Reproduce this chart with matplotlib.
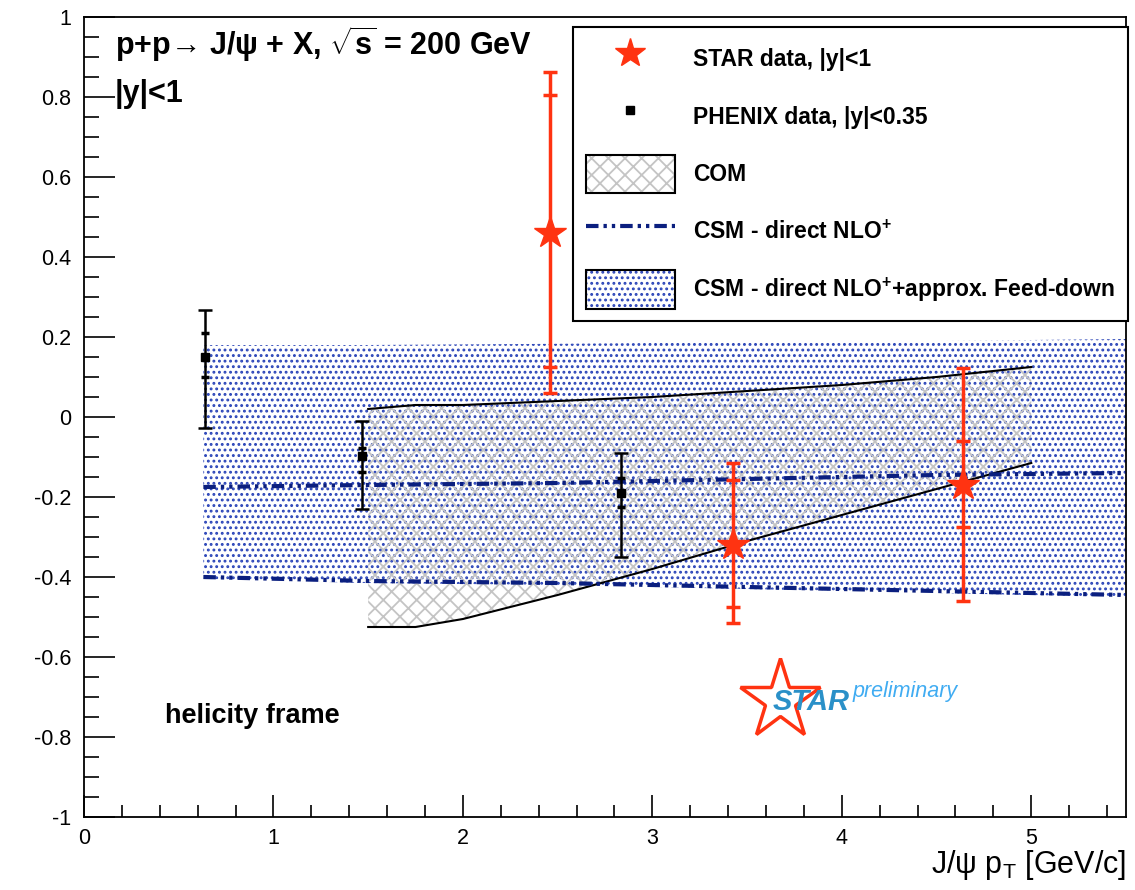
import matplotlib
matplotlib.use("Agg")
import matplotlib.pyplot as plt
from matplotlib.lines import Line2D
from matplotlib.patches import Patch
from matplotlib.legend_handler import HandlerTuple
from matplotlib.ticker import MultipleLocator, FuncFormatter

plt.rcParams['font.family'] = ['Liberation Sans', 'DejaVu Sans']
plt.rcParams['mathtext.fontset'] = 'custom'
plt.rcParams['mathtext.rm'] = 'Liberation Sans'
plt.rcParams['mathtext.it'] = 'Liberation Sans:italic'
plt.rcParams['mathtext.bf'] = 'Liberation Sans:bold'
plt.rcParams['hatch.linewidth'] = 1.3

RED = '#ff3311'
NAVY = '#0b1f7f'
DOTS = '#2a44b8'

# STAR data, |y|<1 (central value, total and inner error ends)
star_pt = [2.46, 3.425, 4.64]
star_val = [0.46, -0.32, -0.17]
star_hi = [0.8625, -0.115, 0.1225]
star_lo = [0.06, -0.515, -0.46]
star_hi_in = [0.805, -0.158, -0.06]
star_lo_in = [0.125, -0.475, -0.275]

# PHENIX data, |y|<0.35
phx_pt = [0.638, 1.467, 2.834]
phx_val = [0.15, -0.0975, -0.19]
phx_hi = [0.2675, -0.01, -0.09]
phx_lo = [-0.0275, -0.23, -0.35]
phx_hi_in = [0.21, -0.0775, -0.1525]
phx_lo_in = [0.10, -0.1375, -0.225]

# COM band
com_pt = [1.5, 1.75, 2.0, 2.25, 2.5, 3.0, 3.5, 4.0, 4.5, 5.0]
com_up = [0.02, 0.03, 0.03, 0.035, 0.04, 0.05, 0.065, 0.08, 0.10, 0.125]
com_dn = [-0.525, -0.525, -0.505, -0.475, -0.445, -0.38, -0.31, -0.245, -0.18, -0.115]

# CSM direct NLO+ lines and band with feed-down
csm_pt = [0.63, 1.5, 2.5, 3.5, 4.5, 5.5]
csm_up = [-0.175, -0.17, -0.165, -0.155, -0.145, -0.14]
csm_dn = [-0.40, -0.41, -0.415, -0.425, -0.435, -0.445]
fd_up = [0.18, 0.18, 0.183, 0.187, 0.19, 0.195]
fd_dn = [-0.405, -0.415, -0.42, -0.43, -0.44, -0.45]


def errs(val, lo, hi):
    return [[v - l for v, l in zip(val, lo)], [h - v for v, h in zip(val, hi)]]


fig = plt.figure(figsize=(11.35, 8.9), dpi=100)
ax = fig.add_axes([84 / 1135, 1 - 817 / 890, 1042 / 1135, 800 / 890])

# bands
ax.fill_between(csm_pt, fd_dn, fd_up, facecolor='white', edgecolor=DOTS,
                hatch='...', linewidth=0, zorder=1)
ax.fill_between(com_pt, com_dn, com_up, facecolor='none', edgecolor='#c4c4c4',
                hatch='xx', linewidth=0, zorder=2)
ax.plot(com_pt, com_up, color='black', lw=1.5, zorder=3)
ax.plot(com_pt, com_dn, color='black', lw=1.5, zorder=3)

dashdot = (0, (3, 1.2, 0.8, 1.2, 0.8, 1.2))
ax.plot(csm_pt, csm_up, color=NAVY, lw=3, ls=dashdot, zorder=3)
ax.plot(csm_pt, csm_dn, color=NAVY, lw=3, ls=dashdot, zorder=3)

# PHENIX points
ax.errorbar(phx_pt, phx_val, yerr=errs(phx_val, phx_lo, phx_hi), fmt='none',
            ecolor='black', elinewidth=1.8, capsize=5, capthick=1.8, zorder=4)
ax.errorbar(phx_pt, phx_val, yerr=errs(phx_val, phx_lo_in, phx_hi_in), fmt='none',
            ecolor='black', elinewidth=0, capsize=3, capthick=2.5, zorder=4)
ax.plot(phx_pt, phx_val, 's', color='black', ms=6, zorder=5)

# STAR points
ax.errorbar(star_pt, star_val, yerr=errs(star_val, star_lo, star_hi), fmt='none',
            ecolor=RED, elinewidth=2.5, capsize=5, capthick=2.5, zorder=6)
ax.errorbar(star_pt, star_val, yerr=errs(star_val, star_lo_in, star_hi_in), fmt='none',
            ecolor=RED, elinewidth=0, capsize=5, capthick=2.5, zorder=6)
ax.plot(star_pt, star_val, '*', color=RED, ms=24, zorder=7)

ax.set_xlim(0, 5.5)
ax.set_ylim(-1, 1)
ax.xaxis.set_major_locator(MultipleLocator(1))
ax.xaxis.set_minor_locator(MultipleLocator(0.2))
ax.yaxis.set_major_locator(MultipleLocator(0.2))
ax.yaxis.set_minor_locator(MultipleLocator(0.05))
ax.yaxis.set_major_formatter(FuncFormatter(lambda v, p: '%g' % round(v, 2)))
ax.tick_params(which='both', direction='in', top=False, right=False, width=1.2,
               labelsize=15.5)
ax.tick_params(axis='x', which='major', length=16, pad=8)
ax.tick_params(axis='x', which='minor', length=9)
ax.tick_params(axis='y', which='major', length=22, pad=9)
ax.tick_params(axis='y', which='minor', length=11)
for s in ax.spines.values():
    s.set_linewidth(1.3)

# texts
fig.text(115 / 1135, 1 - 55 / 890,
         'p+p\u2192 J/ψ + X, $\\sqrt{\\mathbf{s}}$ = 200 GeV',
         fontsize=22, fontweight='bold', va='baseline')
fig.text(115 / 1135, 1 - 102 / 890, '|y|<1', fontsize=22, fontweight='bold',
         va='baseline')
fig.text(165 / 1135, 1 - 723 / 890, 'helicity frame', fontsize=19.5,
         fontweight='bold', va='baseline')
fig.text(1126 / 1135, 1 - 873 / 890, r'J/ψ p$_{\mathregular{T}}$ [GeV/c]',
         fontsize=22, ha='right', va='baseline')

# STAR preliminary logo
ax.plot([(780 - 84) / 1042], [(817 - 700) / 800], transform=ax.transAxes,
        marker='*', ms=60, mfc='none', mec=RED, mew=2.5, ls='none', zorder=8)
fig.text(773 / 1135, 1 - 710 / 890, 'STAR', fontsize=21, fontweight='bold',
         style='italic', color='#2a90c8', va='baseline', zorder=9)
fig.text(853 / 1135, 1 - 697 / 890, 'preliminary', fontsize=15.5, style='italic',
         color='#40acf2', va='baseline')

# legend
handles = [
    Line2D([], [], marker='*', color=RED, ls='none', ms=22),
    Line2D([], [], marker='s', color='black', ls='none', ms=6),
    (Patch(facecolor='white', edgecolor='#c4c4c4', hatch='xx', lw=0),
     Patch(facecolor='none', edgecolor='black', lw=1.5)),
    Line2D([], [], color=NAVY, lw=3, ls=dashdot),
    (Patch(facecolor='white', edgecolor=DOTS, hatch='...', lw=0),
     Patch(facecolor='none', edgecolor='black', lw=1.5)),
]
labels = ['STAR data, |y|<1', 'PHENIX data, |y|<0.35', 'COM',
          r'CSM - direct NLO$^{\mathbf{+}}$',
          r'CSM - direct NLO$^{\mathbf{+}}$+approx. Feed-down']
leg = fig.legend(handles, labels, loc='upper right',
                 bbox_to_anchor=(1128 / 1135, 1 - 27 / 890),
                 handler_map={tuple: HandlerTuple(ndivide=1)},
                 prop={'weight': 'bold', 'size': 16.5}, handlelength=3.9,
                 handleheight=2.2, labelspacing=0.84, handletextpad=0.8,
                 borderpad=0.55, borderaxespad=0, fancybox=False,
                 framealpha=1, edgecolor='black')
leg.get_frame().set_linewidth(1.5)
leg.set_zorder(10)

fig.savefig('out.png', dpi=100)
